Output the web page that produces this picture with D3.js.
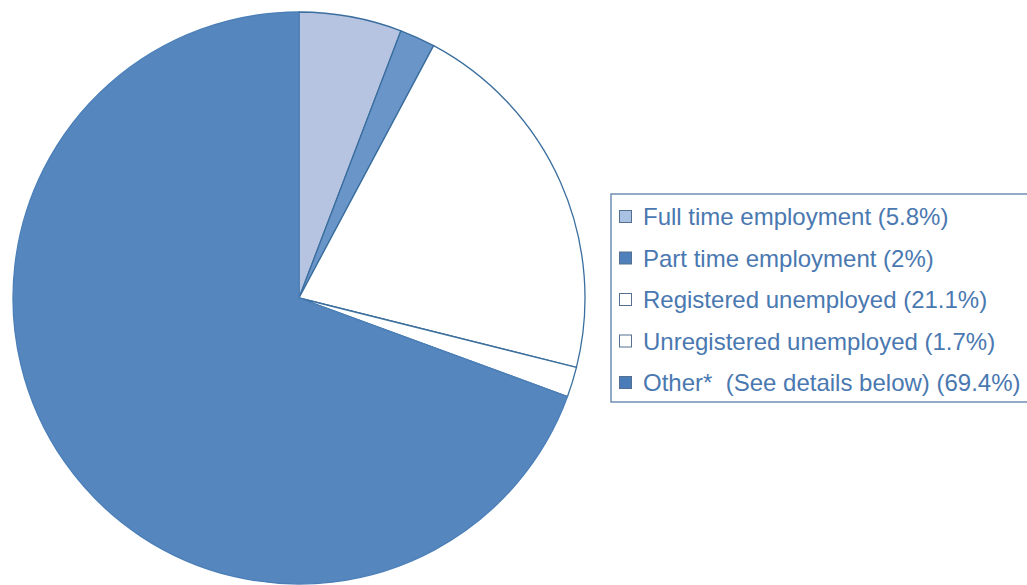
<!DOCTYPE html>
<html>
<head>
<meta charset="utf-8">
<script src="https://cdn.jsdelivr.net/npm/d3@7"></script>
<style>
  body { margin: 0; background: #fff; }
  text { font-family: "Liberation Sans", Arial, sans-serif; white-space: pre; }
</style>
</head>
<body>
<script>
const categories = ['Full time employment', 'Part time employment', 'Registered unemployed', 'Unregistered unemployed', 'Other*  (See details below)'];
const values     = [5.8, 2, 21.1, 1.7, 69.4];
const fills      = ['#b7c4e1', '#6a95c9', '#ffffff', '#ffffff', '#5686be'];
const swatches   = ['#a9c1e3', '#4f80bb', '#ffffff', '#ffffff', '#4a7cb9'];

const width  = 1027;
const height = 585;
const cx = 299, cy = 298, radius = 286;

const svg = d3.select('body').append('svg')
  .attr('width', width)
  .attr('height', height);

const pie = d3.pie().sort(null).value(d => d);
const arc = d3.arc().innerRadius(0).outerRadius(radius);

const g = svg.append('g').attr('transform', 'translate(' + cx + ',' + cy + ')');

g.selectAll('path')
  .data(pie(values))
  .enter().append('path')
  .attr('d', arc)
  .style('fill', (d, i) => fills[i])
  .style('stroke', (d, i) => i === 4 ? '#4b7fb8' : '#3a6e9e')
  .style('stroke-width', 1.3);

// legend
const lx = 611, ly = 194, lw = 430, lh = 208;
const legend = svg.append('g');
legend.append('rect')
  .attr('x', lx).attr('y', ly)
  .attr('width', lw).attr('height', lh)
  .style('fill', '#fff')
  .style('stroke', '#6f8fb3')
  .style('stroke-width', 1.5);

const rowY = d3.scalePoint().domain(d3.range(categories.length)).range([216, 382]);

const rows = legend.selectAll('.row')
  .data(categories)
  .enter().append('g')
  .attr('class', 'row')
  .attr('transform', (d, i) => 'translate(0,' + rowY(i) + ')');

rows.append('rect')
  .attr('x', 619.5).attr('y', -5.5)
  .attr('width', 12).attr('height', 12)
  .style('fill', (d, i) => swatches[i])
  .style('stroke', '#55708f')
  .style('stroke-width', 1);

rows.append('text')
  .attr('x', 643).attr('y', 1)
  .attr('dy', '0.35em')
  .style('font-size', '24px')
  .style('fill', '#4a78b0')
  .text((d, i) => d + ' (' + values[i] + '%)');
</script>
</body>
</html>
